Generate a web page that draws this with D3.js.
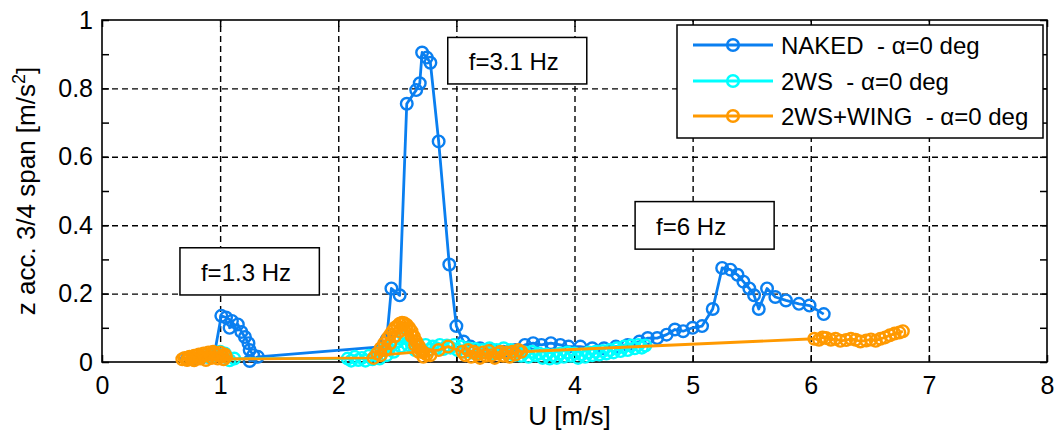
<!DOCTYPE html>
<html><head><meta charset="utf-8">
<script src="https://cdn.jsdelivr.net/npm/d3@7"></script>
<style>
body{margin:0;background:#fff;}
svg text{font-family:Arial,"Liberation Sans",sans-serif;fill:#000;white-space:pre;}
</style></head><body>
<svg id="chart" width="1056" height="434"></svg>
<script>
// ---------- data ----------
const seriesNames = ["NAKED  - \u03b1=0 deg", "2WS  - \u03b1=0 deg", "2WS+WING  - \u03b1=0 deg"];
const seriesColors = ["#0a7ff0", "#00ffff", "#ff9900"];

const nakedU = [0.72,0.78,0.84,0.90,0.95,1.01,1.05,1.10,1.08,1.15,1.18,1.21,1.24,1.25,1.28,1.25,1.32,2.38,2.41,2.45,2.52,2.58,2.66,2.69,2.71,2.75,2.78,2.85,2.94,3.00,3.06,3.12,3.20,3.30,3.40,3.50,3.58,3.65,3.72,3.80,3.88,3.95,4.05,4.15,4.25,4.35,4.45,4.55,4.62,4.70,4.78,4.85,4.92,5.00,5.08,5.17,5.25,5.32,5.38,5.43,5.48,5.52,5.56,5.63,5.70,5.79,5.90,5.99,6.11];
const nakedAcc = [0.008,0.01,0.012,0.015,0.02,0.135,0.13,0.12,0.10,0.11,0.088,0.073,0.055,0.035,0.02,0.003,0.015,0.045,0.065,0.215,0.195,0.755,0.795,0.815,0.905,0.89,0.875,0.645,0.285,0.105,0.06,0.045,0.04,0.035,0.03,0.035,0.05,0.055,0.05,0.055,0.05,0.045,0.045,0.04,0.04,0.045,0.05,0.06,0.07,0.07,0.08,0.095,0.09,0.1,0.105,0.155,0.275,0.27,0.255,0.235,0.215,0.195,0.155,0.215,0.19,0.18,0.17,0.165,0.14];

const wsU = [0.90,0.95,1.00,1.04,1.08,1.12,
  2.08,2.11,2.14,2.17,2.20,2.23,2.26,2.29,2.32,2.35,2.38,2.41,2.44,2.47,2.50,2.53,2.56,2.59,2.62,2.65,2.68,2.71,2.74,2.77,
  2.80,2.83,2.86,2.89,2.92,2.95,2.98,3.01,3.04,3.07,3.10,3.13,3.16,3.19,3.22,3.25,3.28,3.31,3.34,3.37,3.40,3.43,3.46,3.49,
  3.52,3.55,3.58,3.61,3.64,3.67,3.70,3.73,3.76,3.79,3.82,3.85,3.88,3.91,3.94,3.97,4.00,4.03,4.06,4.09,4.12,4.15,4.18,4.21,
  4.24,4.27,4.30,4.33,4.36,4.39,4.42,4.45,4.48,4.51,4.54,4.57,4.60];
const wsAcc = [0.015,0.02,0.03,0.025,0.005,0.01,
  0.01,0.004,0.015,0.006,0.012,0.004,0.018,0.008,0.022,0.01,0.035,0.02,0.045,0.03,0.06,0.045,0.07,0.05,0.055,0.035,0.045,0.03,0.05,0.035,
  0.045,0.04,0.05,0.038,0.048,0.042,0.05,0.035,0.045,0.03,0.04,0.028,0.038,0.025,0.035,0.03,0.04,0.025,0.035,0.028,0.04,0.025,0.035,0.02,
  0.03,0.018,0.028,0.015,0.03,0.02,0.025,0.012,0.022,0.01,0.02,0.012,0.025,0.015,0.028,0.018,0.025,0.012,0.022,0.015,0.028,0.02,0.03,0.022,
  0.032,0.025,0.035,0.028,0.04,0.032,0.045,0.035,0.048,0.04,0.05,0.042,0.048];

const wingU = [0.68,0.70,0.72,0.74,0.76,0.78,0.80,0.82,0.84,0.86,0.88,0.90,0.92,0.94,0.96,0.98,1.00,1.02,1.04,1.05,
  1.03,0.98,0.93,0.88,0.83,0.78,0.73,
  2.30,2.33,2.36,2.39,2.42,2.44,2.46,2.48,2.50,2.52,2.54,2.56,2.58,2.60,2.62,2.64,2.66,2.68,2.70,2.72,2.75,2.78,
  2.72,2.68,2.65,2.62,2.58,2.52,2.48,2.44,2.40,2.36,
  2.85,2.93,
  3.05,3.075,3.10,3.125,3.15,3.175,3.20,3.225,3.25,3.275,3.30,3.325,3.35,3.375,3.40,3.425,3.45,3.475,3.50,3.525,3.55,
  6.03,6.07,6.10,6.13,6.17,6.21,6.25,6.30,6.34,6.38,6.42,6.47,6.51,6.55,6.59,6.63,6.67,6.71,6.75,6.78];
const wingAcc = [0.008,0.012,0.006,0.015,0.01,0.018,0.012,0.022,0.016,0.025,0.02,0.028,0.022,0.03,0.025,0.02,0.028,0.018,0.022,0.015,
  0.008,0.01,0.012,0.006,0.01,0.005,0.008,
  0.012,0.025,0.04,0.055,0.07,0.08,0.09,0.1,0.105,0.112,0.115,0.113,0.108,0.1,0.09,0.075,0.06,0.048,0.035,0.028,0.022,0.02,
  0.015,0.03,0.05,0.075,0.095,0.09,0.075,0.055,0.035,0.02,
  0.035,0.045,
  0.03,0.02,0.035,0.015,0.03,0.022,0.012,0.028,0.018,0.032,0.02,0.012,0.025,0.03,0.018,0.028,0.015,0.03,0.022,0.035,0.03,
  0.068,0.065,0.072,0.07,0.065,0.068,0.062,0.064,0.068,0.065,0.06,0.063,0.066,0.062,0.068,0.072,0.078,0.083,0.086,0.09];

const xTickValues = [0,1,2,3,4,5,6,7,8];
const xTickLabels = ["0","1","2","3","4","5","6","7","8"];
const yTickValues = [0,0.1,0.2,0.3,0.4,0.5,0.6,0.7,0.8,0.9,1];
const yTickLabels = ["0","","0.2","","0.4","","0.6","","0.8","","1"];
const xGridValues = [1,2,3,4,5,6,7];
const yGridValues = [0.2,0.4,0.6,0.8];

const annotationLabels = ["f=1.3 Hz", "f=3.1 Hz", "f=6 Hz"];
const annotationBoxes = [[0.660,1.840,0.196,0.334],[2.927,4.104,0.813,0.949],[4.513,5.690,0.330,0.469]];

const xLabel = "U [m/s]";

// ---------- layout ----------
const L = 102, R = 1047, T = 20, B = 362;
const x = d3.scaleLinear().domain([0,8]).range([L,R]);
const y = d3.scaleLinear().domain([0,1]).range([B,T]);
const svg = d3.select("#chart");

// grid
const gx = svg.append("g").attr("transform",`translate(0,${B})`)
  .call(d3.axisBottom(x).tickValues(xGridValues).tickSize(-(B-T)).tickFormat(""));
const gy = svg.append("g").attr("transform",`translate(${L},0)`)
  .call(d3.axisLeft(y).tickValues(yGridValues).tickSize(-(R-L)).tickFormat(""));
[gx,gy].forEach(g=>{
  g.select(".domain").remove();
  g.selectAll("line").attr("stroke","#000").attr("stroke-width",1.4).attr("stroke-dasharray","6,4");
});

// axes
const fmtX = d => xTickLabels[xTickValues.indexOf(d)];
const fmtY = d => yTickLabels[yTickValues.indexOf(d)];
const axB = svg.append("g").attr("transform",`translate(0,${B})`)
  .call(d3.axisBottom(x).tickValues(xTickValues).tickSizeInner(-7).tickSizeOuter(0).tickPadding(14).tickFormat(fmtX));
const axT = svg.append("g").attr("transform",`translate(0,${T})`)
  .call(d3.axisTop(x).tickValues(xTickValues).tickSizeInner(-7).tickSizeOuter(0).tickFormat(""));
const axL = svg.append("g").attr("transform",`translate(${L},0)`)
  .call(d3.axisLeft(y).tickValues(yTickValues).tickSizeInner(-7).tickSizeOuter(0).tickPadding(9).tickFormat(fmtY));
const axR = svg.append("g").attr("transform",`translate(${R},0)`)
  .call(d3.axisRight(y).tickValues(yTickValues).tickSizeInner(-7).tickSizeOuter(0).tickFormat(""));
[axB,axT,axL,axR].forEach(g=>{
  g.select(".domain").remove();
  g.selectAll("line").attr("stroke","#000").attr("stroke-width",1.5);
  g.selectAll("text").attr("font-size",25).attr("fill","#000").style("font-family","Arial, 'Liberation Sans', sans-serif");
});
svg.append("rect").attr("x",L).attr("y",T).attr("width",R-L).attr("height",B-T)
  .attr("fill","none").attr("stroke","#000").attr("stroke-width",1.6);

// axis labels
svg.append("text").attr("x",(x(0)+x(8))/2 - 5).attr("y",425).attr("text-anchor","middle")
  .attr("font-size",26).text(xLabel);
const yl = svg.append("text").attr("transform",`translate(35,191) rotate(-90)`)
  .attr("text-anchor","middle").attr("font-size",26);
yl.append("tspan").text("z acc. 3/4 span [m/s");
yl.append("tspan").attr("font-size",18).attr("dy",-10).text("2");
yl.append("tspan").attr("dy",10).text("]");

// series
const series = [
  {u:nakedU, a:nakedAcc},
  {u:wsU, a:wsAcc},
  {u:wingU, a:wingAcc}
];
const line = d3.line().x(d=>x(d[0])).y(d=>y(d[1]));
series.forEach((s,i)=>{
  const pts = d3.zip(s.u, s.a);
  const g = svg.append("g");
  g.append("path").datum(pts).attr("d",line).attr("fill","none")
    .attr("stroke",seriesColors[i]).attr("stroke-width",2.8).attr("stroke-linejoin","round");
  g.selectAll("circle").data(pts).join("circle")
    .attr("cx",d=>x(d[0])).attr("cy",d=>y(d[1])).attr("r",5.8)
    .attr("fill","none").attr("stroke",seriesColors[i]).attr("stroke-width",2.4);
});

// annotation boxes
annotationLabels.forEach((lab,i)=>{
  const [u0,u1,a0,a1] = annotationBoxes[i];
  svg.append("rect").attr("x",x(u0)).attr("y",y(a1)).attr("width",x(u1)-x(u0)).attr("height",y(a0)-y(a1))
    .attr("fill","#fff").attr("stroke","#000").attr("stroke-width",1.5);
  svg.append("text").attr("x",x(u0)+21).attr("y",y(a0)-14).attr("font-size",24).text(lab);
});

// legend
const lg = svg.append("g");
lg.append("rect").attr("x",677).attr("y",25).attr("width",366).attr("height",113)
  .attr("fill","#fff").attr("stroke","#000").attr("stroke-width",1.5);
const rowY = [45,81,116];
seriesNames.forEach((n,i)=>{
  lg.append("line").attr("x1",693).attr("x2",773).attr("y1",rowY[i]).attr("y2",rowY[i])
    .attr("stroke",seriesColors[i]).attr("stroke-width",2.8);
  lg.append("circle").attr("cx",733).attr("cy",rowY[i]).attr("r",5.8)
    .attr("fill","none").attr("stroke",seriesColors[i]).attr("stroke-width",2.6);
  lg.append("text").attr("x",781).attr("y",rowY[i]+9).attr("font-size",24).text(n);
});
</script>
</body></html>
